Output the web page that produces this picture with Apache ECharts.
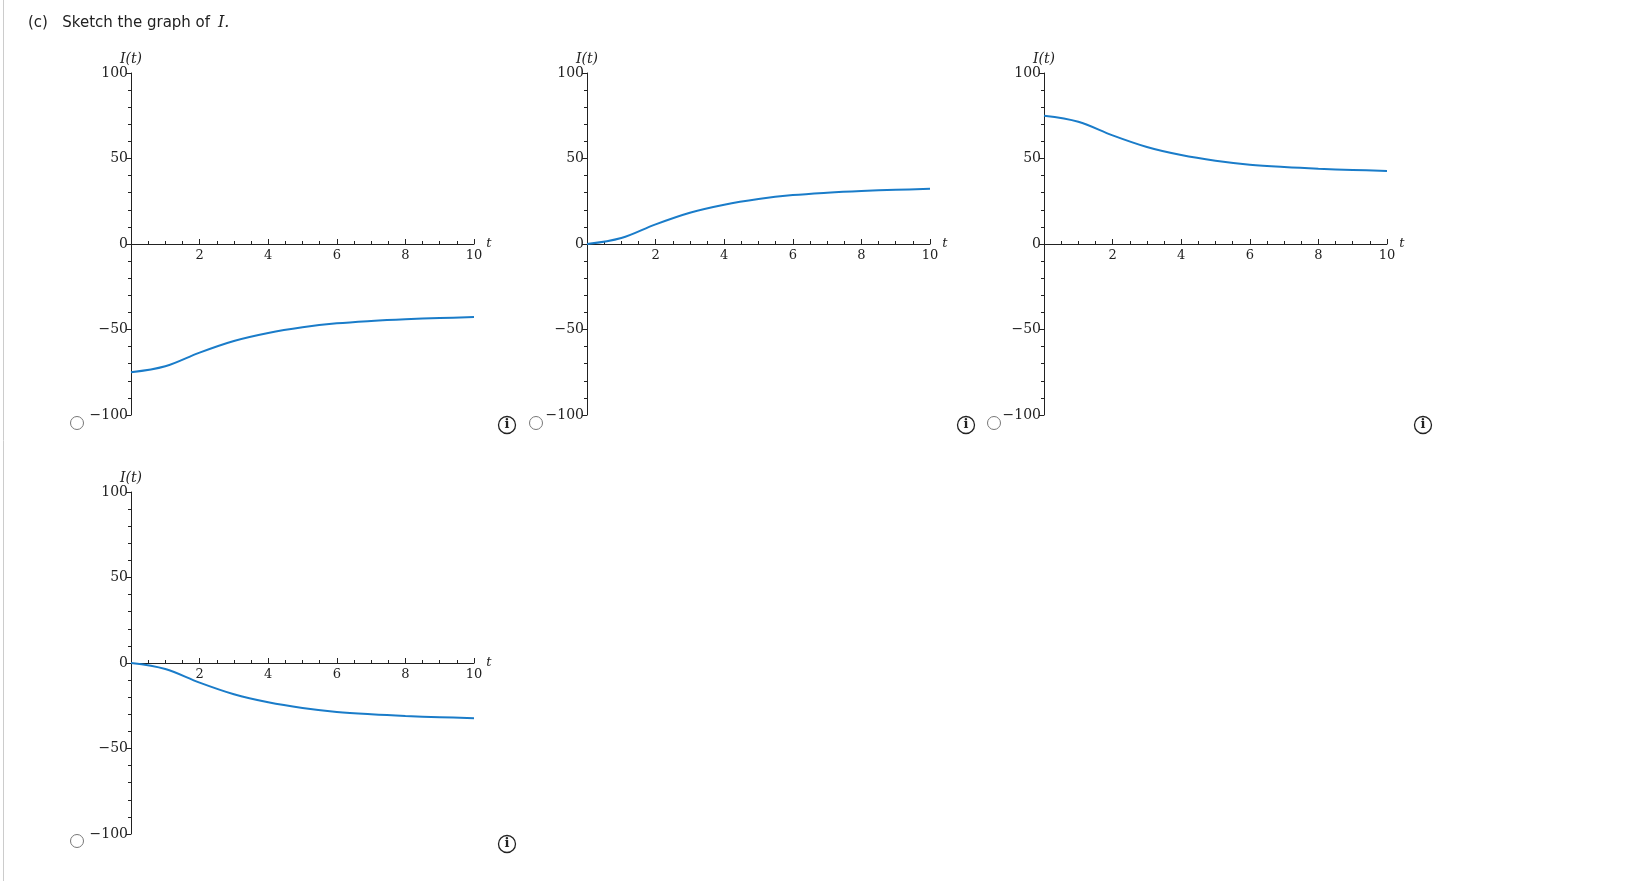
<!DOCTYPE html>
<html><head><meta charset="utf-8">
<script src="https://cdn.jsdelivr.net/npm/echarts@6/dist/echarts.min.js"></script>
<style>html,body{margin:0;padding:0;background:#fff}#c{width:1629px;height:881px}</style>
</head><body><div id="c"></div>
<script>
const tValues = [0,1,2,3,4,5,6,7,8,9,10];
const curveA = [-75,-71.5,-63.5,-56.7,-52,-48.7,-46.4,-45,-44,-43.3,-42.7];
const curveB = [0,3.5,11.5,18.3,23,26.3,28.6,30,31,31.7,32.3];
const curveC = [75,71.5,63.5,56.7,52,48.7,46.4,45,44,43.3,42.7];
const curveD = [0,-3.5,-11.5,-18.3,-23,-26.3,-28.6,-30,-31,-31.7,-32.3];
const curves = [curveA, curveB, curveC, curveD];
const yTicks = [-100,-50,0,50,100];
const xTicks = [2,4,6,8,10];

const H = 342;
const grids = [
  {left:131, top:73, width:343, height:H},
  {left:587, top:73, width:343, height:H},
  {left:1044, top:73, width:343, height:H},
  {left:131, top:492, width:343, height:H}
];
const serif = 'DejaVu Serif';
const option = {
  animation:false,
  grid: grids,
  xAxis: grids.map((g,i)=>({
    gridIndex:i, type:'value', min:0, max:10, interval:2, position:'bottom', offset:-H/2,
    axisLine:{onZero:false, lineStyle:{color:'#222', width:1}},
    axisTick:{inside:true, length:5, lineStyle:{color:'#222'}},
    minorTick:{show:true, splitNumber:4, length:3, lineStyle:{color:'#222'}},
    splitLine:{show:false},
    axisLabel:{fontFamily:serif, fontSize:13, color:'#222', margin:5,
      formatter:v=> xTicks.includes(v)? String(v):''},
    name:'t', nameLocation:'end', nameGap:8,
    nameTextStyle:{fontFamily:serif, fontStyle:'italic', fontSize:13, color:'#222', padding:[0,0,14,0]}
  })),
  yAxis: grids.map((g,i)=>({
    gridIndex:i, type:'value', min:-100, max:100, interval:50,
    axisLine:{show:true, onZero:false, lineStyle:{color:'#222', width:1}},
    axisTick:{show:true, length:5, lineStyle:{color:'#222'}},
    minorTick:{show:true, splitNumber:5, length:3, lineStyle:{color:'#222'}},
    splitLine:{show:false},
    axisLabel:{fontFamily:serif, fontSize:14, color:'#222', margin:3,
      formatter:v=> yTicks.includes(v)? String(v).replace('-','\u2212'):''},
    name:'I(t)', nameLocation:'end', nameGap:6,
    nameTextStyle:{fontFamily:serif, fontStyle:'italic', fontSize:14, color:'#222', align:'center'}
  })),
  series: curves.map((c,i)=>({
    type:'line', xAxisIndex:i, yAxisIndex:i, smooth:0.35, symbol:'none',
    lineStyle:{color:'#1a7cc9', width:2},
    data: tValues.map((t,k)=>[t,c[k]])
  })),
  graphic: [
    {type:'line', shape:{x1:3.5,y1:0,x2:3.5,y2:881}, style:{stroke:'#ccc', lineWidth:1}},
    {type:'text', left:28, top:16, style:{text:'(c)   Sketch the graph of ', font:'15px "DejaVu Sans"', fill:'#222'}},
    {type:'text', left:218, top:15, style:{text:'I.', font:'italic 16px "DejaVu Serif"', fill:'#222'}},
  ]
};
const radios = [[77,423],[536,423],[994,423],[77,841]];
const infos = [[507,425],[966,425],[1423,425],[507,844]];
radios.forEach(([x,y])=>option.graphic.push({type:'circle', shape:{cx:x,cy:y,r:6.5}, style:{fill:'#fff', stroke:'#777', lineWidth:1}}));
infos.forEach(([x,y])=>{
  option.graphic.push({type:'circle', shape:{cx:x,cy:y,r:8.5}, style:{fill:'#fff', stroke:'#222', lineWidth:1.3}});
  option.graphic.push({type:'text', x:x, y:y, style:{text:'i', font:'bold 13px "DejaVu Serif"', fill:'#222', align:'center', verticalAlign:'middle'}});
});
echarts.init(document.getElementById('c')).setOption(option);
</script></body></html>
